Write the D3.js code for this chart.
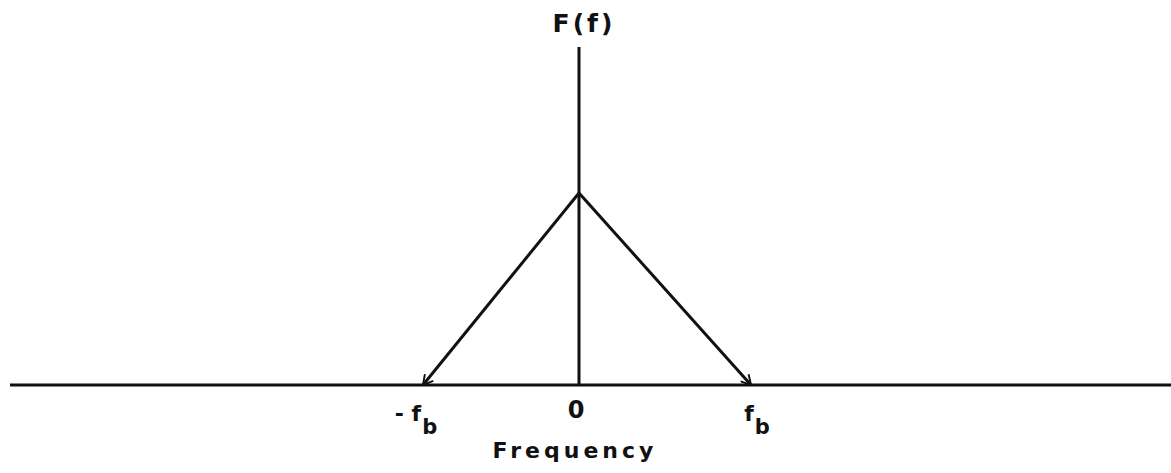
<!DOCTYPE html>
<html>
<head>
<meta charset="utf-8">
<script src="https://cdn.jsdelivr.net/npm/d3@7"></script>
<style>
  html, body { margin: 0; padding: 0; background: #fff; }
  svg { display: block; }
  text { font-family: "DejaVu Sans", sans-serif; font-weight: bold; fill: #111; }
</style>
</head>
<body>
<svg id="chart" width="1171" height="473"></svg>
<script>
// Triangular spectrum F(f): peak at zero frequency, falling to zero at ±f_b
const freqs = [-1, 0, 1];            // in units of f_b
const spectrum = [0, 1, 0];          // relative amplitude
const tickValues = [-1, 0, 1];
const tickLabels = ["- f", "0", "f"];
const tickSubs = ["b", "", "b"];
const axisTitle = "Frequency";
const yTitle = "F(f)";
const yAxisTop = 1.76;

const svg = d3.select("#chart");
// hand-drawn axis: the zero line sits slightly left of centre between ±f_b
const x = d3.scaleLinear().domain([-1, 0, 1]).range([423, 579, 751]);
const y = d3.scaleLinear().domain([0, 1]).range([385, 193]);
const ink = "#111";

// horizontal frequency axis
svg.append("line")
  .attr("x1", 10).attr("x2", 1171)
  .attr("y1", y(0)).attr("y2", y(0))
  .attr("stroke", ink).attr("stroke-width", 3);

// vertical F(f) axis
svg.append("line")
  .attr("x1", x(0)).attr("x2", x(0))
  .attr("y1", y(0)).attr("y2", y(yAxisTop))
  .attr("stroke", ink).attr("stroke-width", 3);

// arrowhead marker at the feet of the triangle
svg.append("defs").append("marker")
  .attr("id", "arrow")
  .attr("viewBox", "0 0 10 10")
  .attr("refX", 9).attr("refY", 5)
  .attr("markerWidth", 4).attr("markerHeight", 4)
  .attr("markerUnits", "strokeWidth")
  .attr("orient", "auto")
  .append("path")
  .attr("d", "M1,0.5 L9,5 L1,9.5")
  .attr("fill", "none").attr("stroke", ink).attr("stroke-width", 1.6);

// two sides of the triangle, each ending in an arrow
const pts = freqs.map((f, i) => [x(f), y(spectrum[i])]);
[[pts[1], pts[0]], [pts[1], pts[2]]].forEach(seg => {
  svg.append("path")
    .attr("d", d3.line()(seg))
    .attr("stroke", ink).attr("stroke-width", 3)
    .attr("fill", "none")
    .attr("marker-end", "url(#arrow)");
});

// tick labels
const offs = [-7, -3, 6];
tickValues.forEach((v, i) => {
  const t = svg.append("text")
    .attr("x", x(v) + offs[i])
    .attr("y", tickSubs[i] ? 421 : 418)
    .attr("text-anchor", "middle")
    .attr("font-size", tickSubs[i] ? 22 : 24);
  t.append("tspan").text(tickLabels[i]);
  if (tickSubs[i]) {
    t.append("tspan").attr("dy", 13).attr("dx", 1).attr("font-size", 21).text(tickSubs[i]);
  }
});

// axis titles
svg.append("text")
  .attr("x", x(0) - 4).attr("y", 458)
  .attr("text-anchor", "middle")
  .attr("font-size", 22)
  .attr("letter-spacing", 4)
  .text(axisTitle);

svg.append("text")
  .attr("x", x(0) + 5).attr("y", 32)
  .attr("text-anchor", "middle")
  .attr("font-size", 25)
  .attr("letter-spacing", 3)
  .text(yTitle);
</script>
</body>
</html>
